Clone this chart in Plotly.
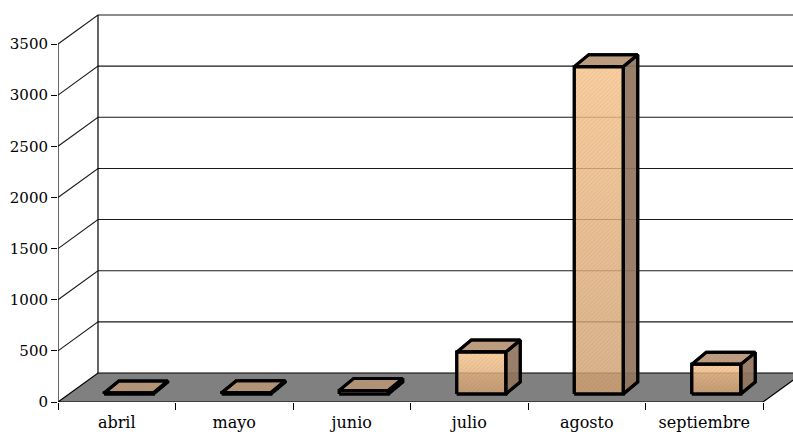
import plotly.graph_objects as go

# ---- data -------------------------------------------------------------
months = ["abril", "mayo", "junio", "julio", "agosto", "septiembre"]
values = [10, 12, 35, 410, 3200, 290]
y_ticks = [0, 500, 1000, 1500, 2000, 2500, 3000, 3500]

# ---- geometry (pixel sizes converted to data units) --------------------
W, H = 793, 435
ML, MB = 58, 33
CAT_PX = 117.5                 # width of one category slot
PX_PER_UNIT = 358 / 3500       # vertical scale

x_range = [-0.5, -0.5 + (W - ML) / CAT_PX]
y_range = [0, (H - MB) / PX_PER_UNIT]

DX = 40 / CAT_PX               # depth of floor / walls
DY = 29 / PX_PER_UNIT
BAR_OFF_X = 12 / CAT_PX        # bar front face shift from slot centre
BAR_HALF = 24.5 / CAT_PX       # half width of bar front face
BAR_BASE = 8 / PX_PER_UNIT     # bar base raised into the floor depth
BAR_DX = 14.5 / CAT_PX         # bar depth
BAR_DY = 12 / PX_PER_UNIT

n = len(months)
x0, x1 = -0.5, n - 0.5
y_top = y_ticks[-1]

FRONT_TOP = "rgba(247,195,138,0.82)"
FRONT_BOT = "rgba(208,160,114,0.82)"
TOP = "rgba(184,150,118,0.92)"
SIDE = "rgba(146,118,94,0.92)"
HATCH = "rgba(90,60,35,1)"

SERIF = "DejaVu Serif"

fig = go.Figure()

# side wall diagonals and back wall gridlines
gx, gy = [], []
for v in y_ticks[1:]:
    gx += [x0, x0 + DX, x_range[1] + 1, None]
    gy += [v, v + DY, v + DY, None]
fig.add_trace(go.Scatter(x=gx, y=gy, mode="lines",
                         line=dict(color="#1a1a1a", width=1.1),
                         hoverinfo="skip", showlegend=False))

# front value axis line and back wall left edge
fig.add_trace(go.Scatter(
    x=[x0, x0, None, x0 + DX, x0 + DX],
    y=[0, y_top, None, DY, y_top + DY],
    mode="lines", line=dict(color="black", width=1.2),
    hoverinfo="skip", showlegend=False))

# floor
fig.add_trace(go.Scatter(
    x=[x0, x1, x1 + DX, x0 + DX, x0],
    y=[0, 0, DY, DY, 0],
    mode="lines", fill="toself", fillcolor="#808080",
    line=dict(color="black", width=1.2),
    hoverinfo="skip", showlegend=False))


def face(fx, fy, **fill):
    fig.add_trace(go.Scatter(
        x=fx, y=fy, mode="lines", fill="toself",
        line=dict(color="black", width=3), hoverinfo="skip",
        showlegend=False, **fill))
    # fine diagonal hatching over the face
    fig.add_trace(go.Scatter(
        x=fx, y=fy, mode="lines", fill="toself",
        fillcolor="rgba(0,0,0,0)", line=dict(width=0),
        fillpattern=dict(shape="/", size=3, solidity=0.15,
                         fgcolor=HATCH, fgopacity=0.2,
                         bgcolor="rgba(0,0,0,0)"),
        hoverinfo="skip", showlegend=False))
    fig.add_trace(go.Scatter(
        x=fx, y=fy, mode="lines",
        line=dict(color="black", width=3), hoverinfo="skip",
        showlegend=False))


# 3-D boxes
for i, v in enumerate(values):
    cx = i + BAR_OFF_X
    l, r = cx - BAR_HALF, cx + BAR_HALF
    b, t = BAR_BASE, BAR_BASE + v
    face([r, r + BAR_DX, r + BAR_DX, r, r],
         [b, b + BAR_DY, t + BAR_DY, t, b], fillcolor=SIDE)
    face([l, r, r + BAR_DX, l + BAR_DX, l],
         [t, t, t + BAR_DY, t + BAR_DY, t], fillcolor=TOP)
    face([l, r, r, l, l], [b, b, t, t, b],
         fillgradient=dict(type="vertical",
                           colorscale=[[0, FRONT_BOT], [1, FRONT_TOP]]))

fig.update_layout(
    width=W, height=H,
    margin=dict(l=ML, r=0, t=0, b=MB, pad=0),
    paper_bgcolor="white", plot_bgcolor="white",
    showlegend=False,
    xaxis=dict(range=x_range, showgrid=False, zeroline=False,
               showline=False, tickmode="array",
               tickvals=list(range(n)), ticktext=months,
               ticks="", ticklabelstandoff=9,
               tickfont=dict(family=SERIF, size=16, color="black"),
               minor=dict(tickmode="array",
                          tickvals=[k - 0.5 for k in range(n + 1)],
                          ticks="outside", ticklen=7, tickwidth=1,
                          tickcolor="black")),
    yaxis=dict(range=y_range, showgrid=False, zeroline=False,
               showline=False, tickmode="array", tickvals=y_ticks,
               ticks="outside", ticklen=6, tickwidth=1,
               ticklabelstandoff=0,
               tickcolor="black",
               tickfont=dict(family=SERIF, size=15, color="black")),
)

fig.write_html("out.html")
